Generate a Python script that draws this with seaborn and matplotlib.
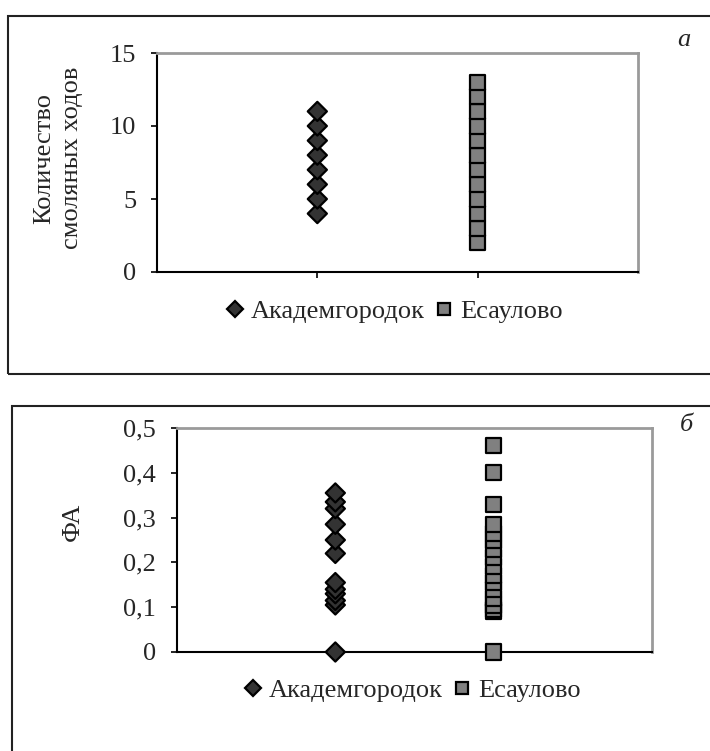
import pandas as pd
import matplotlib.pyplot as plt
import seaborn as sns
from matplotlib.patches import Rectangle

sns.set_style("white")
plt.rcParams['font.family'] = ['Liberation Serif', 'DejaVu Serif']
plt.rcParams['font.size'] = 19

sites = ['Академгородок', 'Есаулово']

# panel a: number of resin ducts
resin_akadem = [4, 5, 6, 7, 8, 9, 10, 11]
resin_esaul = [2, 3, 4, 5, 6, 7, 8, 9, 10, 11, 12, 13]

# panel b: fluctuating asymmetry
fa_akadem = [0, 0.105, 0.115, 0.13, 0.14, 0.155, 0.22, 0.25, 0.285, 0.32, 0.335, 0.355]
fa_esaul = [0, 0.09, 0.095, 0.105, 0.12, 0.14, 0.155, 0.17, 0.19, 0.21, 0.23,
            0.25, 0.265, 0.285, 0.33, 0.40, 0.46]

palette = {'Академгородок': '#333333', 'Есаулово': '#808080'}
markers = {'Академгородок': 'D', 'Есаулово': 's'}
sizes = {'Академгородок': 95, 'Есаулово': 118}


def make_df(a, b):
    return pd.DataFrame({'site': [sites[0]] * len(a) + [sites[1]] * len(b),
                         'value': a + b})


def draw_panel(ax, df, yticks, ylabels, ylim, letter, letter_xy, legend_xy, label, label_xy):
    sns.scatterplot(data=df, x='site', y='value', hue='site', style='site', size='site',
                    palette=palette, markers=markers, sizes=sizes,
                    edgecolor='black', linewidth=1.6, ax=ax, zorder=3, clip_on=False)
    ax.set_xlim(-1, 2)
    ax.set_ylim(*ylim)
    ax.set_xticks([0, 1])
    ax.set_xticklabels([])
    ax.set_yticks(yticks)
    ax.set_yticklabels(ylabels)
    ax.set_xlabel('')
    ax.set_ylabel(label, fontsize=19, linespacing=1.35, va='center')
    ax.yaxis.set_label_coords(*label_xy)
    ax.tick_params(axis='both', direction='out', length=4, width=1.2, color='black',
                   left=True, bottom=True, labelsize=19)
    ax.tick_params(axis='y', pad=11)
    for s in ['left', 'bottom']:
        ax.spines[s].set_color('black')
        ax.spines[s].set_linewidth(1.5)
    for s in ['top', 'right']:
        ax.spines[s].set_color('#9a9a9a')
        ax.spines[s].set_linewidth(2)
    sns.move_legend(ax, 'center', bbox_to_anchor=legend_xy, bbox_transform=fig.transFigure,
                    ncol=2, frameon=False, title=None, fontsize=19, markerscale=0.85,
                    handletextpad=0.1, columnspacing=0.25, handlelength=1.0)
    fig.text(letter_xy[0], letter_xy[1], letter, style='italic', fontsize=19,
             ha='center', va='center')


fig = plt.figure(figsize=(7.1, 7.51), dpi=100)
W, H = 710, 751

# outer frames
fig.patches.append(Rectangle((8 / W, 1 - 374 / H), 1, (374 - 16) / H, transform=fig.transFigure,
                             fill=False, edgecolor='#222222', linewidth=1.5))
fig.patches.append(Rectangle((12 / W, -0.05), 1, 1 - 406 / H + 0.05, transform=fig.transFigure,
                             fill=False, edgecolor='#222222', linewidth=1.5))

ax1 = fig.add_axes([157 / W, 1 - 272 / H, (638 - 157) / W, (272 - 53) / H])
draw_panel(ax1, make_df(resin_akadem, resin_esaul), [0, 5, 10, 15], ['0', '5', '10', '15'],
           (0, 15), 'а', (684 / W, 1 - 40 / H), (392 / W, 1 - 311 / H),
           'Количество\nсмоляных ходов', (-0.205, 0.52))

ax2 = fig.add_axes([177 / W, 1 - 652 / H, (652 - 177) / W, (652 - 428) / H])
draw_panel(ax2, make_df(fa_akadem, fa_esaul), [0, 0.1, 0.2, 0.3, 0.4, 0.5],
           ['0', '0,1', '0,2', '0,3', '0,4', '0,5'],
           (0, 0.5), 'б', (686 / W, 1 - 425 / H), (410 / W, 1 - 690 / H),
           'ФА', (-0.22, 0.58))

fig.savefig('out.png', dpi=100)
